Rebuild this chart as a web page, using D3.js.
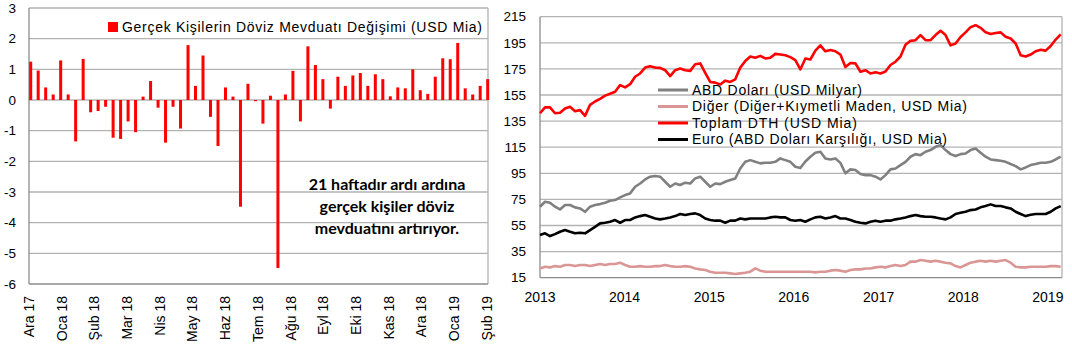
<!DOCTYPE html>
<html><head><meta charset="utf-8">
<script src="https://cdn.jsdelivr.net/npm/d3@7"></script>
<style>
body{margin:0;background:#fff}
svg{display:block}
text{font-family:"Liberation Sans",Arial,sans-serif;fill:#000}
</style>
</head><body>
<svg id="chart" width="1072" height="353"></svg>
<script>
// ---------- Left chart data ----------
const weeklyChange = [1.25,0.96,0.41,0.18,1.29,0.18,-1.35,1.34,-0.40,-0.36,-0.22,-1.23,-1.27,-0.70,-1.05,0.11,0.62,-0.25,-1.39,-0.22,-0.93,1.79,0.46,1.45,-0.55,-1.50,0.41,0.11,-3.48,0.53,-0.04,
  -0.77,0.14,-5.48,0.18,0.95,-0.70,1.75,1.14,0.68,-0.28,0.76,0.46,0.80,0.88,0.46,0.84,0.68,0.12,0.41,0.38,1.00,0.32,0.20,0.76,1.36,1.33,1.86,0.38,0.18,0.46,0.68];
const monthLabels = ["Ara 17","Oca 18","Şub 18","Mar 18","Nis 18","May 18","Haz 18","Tem 18","Ağu 18","Eyl 18","Eki 18","Kas 18","Ara 18","Oca 19","Şub 19"];
const leftYTicks = [3,2,1,0,-1,-2,-3,-4,-5,-6];
const leftLegend = "Gerçek Kişilerin Döviz Mevduatı Değişimi (USD Mia)";
const noteLines = ["21 haftadır ardı ardına","gerçek kişiler döviz","mevduatını artırıyor."];

// ---------- Right chart data (sampled about every 3 weeks) ----------
const usdDeposits = [69.4,73.2,72.4,69.4,67.3,70.7,70.7,68.9,68.1,65.5,69.4,70.7,71.4,72.4,74,74.5,76.5,78.3,79.6,84.7,
  87.2,90.3,92.4,92.9,92.4,88.5,84.7,87.2,86,87.8,87.2,91.1,92.4,88.5,84.7,87.2,86.7,88.5,89.8,91,
  98.7,103.8,105.1,103.8,102.6,103.1,103.1,103.8,106.4,105.1,103.8,100,
  99,104,107.7,110.7,111.5,106.4,105.6,106.4,103,95,98,97.5,94.5,93.6,93.6,92.4,90.3,93.6,98,98.7,
  101.3,103.8,107.7,109.7,108.9,111.5,112.8,115.3,116.6,112.8,109.7,108.2,109.7,110.2,112.8,114,110.7,107.7,105.6,105.1,
  104.6,103.8,102.1,100.5,98,99.5,101.3,102.1,103.1,103.1,103.8,105.6,107.7];
const otherDeposits = [22.1,23.4,22.9,23.9,23.4,24.7,24.7,23.9,24.7,24.7,23.9,24.7,25.5,24.7,25.5,25.5,26.5,24.7,23.4,23.4,
  23.9,23.4,23.4,23.9,23.9,24.7,23.9,23.4,23.4,23.9,23.4,22.1,21.4,20.9,19.6,18.8,18.8,18.8,18.3,17.8,
  18.3,18.8,19.6,22.1,20.4,19.6,19.6,19.6,19.6,19.6,19.6,19.6,
  19.6,19.6,19.6,19.1,19.6,19.6,20.4,20.9,20.4,19.6,20.9,21.4,21.4,22.1,22.1,22.9,23.4,22.9,23.9,24.7,
  23.9,24.7,27.3,27.3,28.5,28,27.3,28,27.3,26.5,26,23.9,22.9,24.7,26.5,27.3,28,27.3,28,27.3,
  28,28.5,26.5,23.4,22.9,22.9,23.4,23.4,23.4,23.4,23.9,23.9,23.4];
const totalDeposits = [141,145.5,145.5,141,141.4,144.7,146,142.6,143.4,139,147.5,150,152,154.5,156,157.5,162.6,160.8,163.3,169,
  171.5,176,177,176,175.8,174,169.5,174,175.3,174,173.5,178.6,179.2,172,165,164.5,163,166,165,167,
  176,181,184.5,183.5,185,183,183.5,186.5,186,185.5,184,181.7,
  174.6,183,182.2,189,193,188.5,189.4,188.5,186,176.5,179.5,179.2,172.8,174,171.5,172.5,171.5,173,178,180.5,
  184.5,193.5,196.5,197,200.9,197,197,200.9,204.2,200.9,193,194.5,199.5,203,207,208.5,206.5,203,201.8,202.5,
  203,199.6,198.3,194.5,185.5,184.5,186,188.5,189.7,189,192.5,197.5,201.5];
const euroDeposits = [47.7,49,46.9,48.4,50.2,51.5,50.2,49,49.5,49,51.5,54,56.6,57.1,57.9,59.2,57.1,59.2,59.2,61.2,
  62.2,63,61.7,60.4,59.7,60.4,61.2,62.2,63.8,63,63.8,64.3,63,60.4,59.2,58.7,58.7,57.1,58.7,58.7,
  60.4,59.7,60.4,60.4,60.4,60.4,61.2,61.7,61.2,61.2,59.2,58.7,
  59.2,57.9,59.7,61.2,61.7,60.4,61.2,62.2,60.4,60.4,59.2,57.9,57.1,56.6,57.9,58.7,57.9,58.7,58.7,59.7,
  60.4,61.2,62.2,63,62.2,61.7,61.7,61.2,60.4,59.7,61.2,63.8,64.8,65.5,66.8,67.3,68.9,69.9,71.2,69.9,
  69.9,68.9,68.1,65.5,63.8,62.2,63.2,63.8,63.8,63.8,65.5,68.1,69.9];
const sampleStart = new Date(2013,0,1);
const sampleStepDays = 21.6;
const sampleDates = totalDeposits.map((_, i) => new Date(sampleStart.getTime() + i*sampleStepDays*864e5));
const yearLabels = ["2013","2014","2015","2016","2017","2018","2019"];
const rightYTicks = [215,195,175,155,135,115,95,75,55,35,15];
const seriesNames = ["ABD Doları (USD Milyar)","Diğer (Diğer+Kıymetli Maden, USD Mia)","Toplam DTH (USD Mia)","Euro (ABD Doları Karşılığı, USD Mia)"];
const seriesColors = ["#808080","#d99694","#ff0000","#000000"];
const seriesData = [usdDeposits, otherDeposits, totalDeposits, euroDeposits];

const svg = d3.select("#chart");
svg.append("rect").attr("width",1072).attr("height",353).attr("fill","#fff");
const gridColor = "#b3b3b3", axisColor = "#8c8c8c";

// ================= LEFT CHART =================
const L = {x0:29, x1:488, y0:8, y1:284};
const ly = d3.scaleLinear().domain([-6,3]).range([L.y1, L.y0]);
const lx = d3.scalePoint().domain(d3.range(weeklyChange.length)).range([30.7, 487.7]);
const lLab = d3.scalePoint().domain(monthLabels).range([29, 487]);
const lg = svg.append("g");
lg.selectAll("line.grid").data(leftYTicks.filter(v => v>-6 && v<3)).join("line")
  .attr("x1",L.x0).attr("x2",L.x1).attr("y1",d=>ly(d)).attr("y2",d=>ly(d))
  .attr("stroke",gridColor).attr("stroke-width",1.3);
lg.append("line").attr("x1",L.x0).attr("x2",L.x1).attr("y1",L.y0).attr("y2",L.y0).attr("stroke",gridColor).attr("stroke-width",1.3);
lg.append("line").attr("x1",L.x1).attr("x2",L.x1).attr("y1",L.y0).attr("y2",L.y1).attr("stroke",gridColor).attr("stroke-width",1.3);
lg.append("line").attr("x1",L.x0).attr("x2",L.x1).attr("y1",L.y1).attr("y2",L.y1).attr("stroke",axisColor).attr("stroke-width",1.3);
lg.append("line").attr("x1",L.x0).attr("x2",L.x0).attr("y1",L.y0).attr("y2",L.y1).attr("stroke",axisColor).attr("stroke-width",1.3);
lg.selectAll("rect.bar").data(weeklyChange).join("rect")
  .attr("x",(d,i)=>lx(i)-1.5).attr("width",3)
  .attr("y",d=>ly(Math.max(0,d))).attr("height",d=>Math.abs(ly(d)-ly(0)))
  .attr("fill","#ff0000");
lg.selectAll("text.yl").data(leftYTicks).join("text")
  .attr("x",16).attr("y",d=>ly(d)).attr("dy","0.35em").attr("text-anchor","end")
  .attr("font-size",13.5).text(d=>d);
lg.selectAll("text.xl").data(monthLabels).join("text")
  .attr("transform",d=>`translate(${lLab(d)},296) rotate(-90)`)
  .attr("dy","0.35em").attr("text-anchor","end").attr("font-size",14).text(d=>d);
lg.append("rect").attr("x",108).attr("y",22).attr("width",10).attr("height",10).attr("fill","#ff0000");
lg.append("text").attr("x",122).attr("y",27).attr("dy","0.35em").attr("font-size",14)
  .attr("textLength",360).attr("lengthAdjust","spacing").text(leftLegend);
lg.selectAll("text.note").data(noteLines).join("text")
  .attr("x",387).attr("y",(d,i)=>[184,206.5,228.5][i]).attr("dy","0.35em").attr("text-anchor","middle")
  .style("font-family","Lato, 'Open Sans', sans-serif").attr("font-weight","bold").attr("font-size",16)
  .attr("fill","#1a1a1a").text(d=>d);

// ================= RIGHT CHART =================
const R = {x0:540, x1:1062, y0:16.7, y1:277.7};
const rx = d3.scaleTime().domain([new Date(2013,0,1), new Date(2019,2,3)]).range([R.x0, R.x1]);
const ry = d3.scaleLinear().domain([15,215]).range([R.y1, R.y0]);
const rg = svg.append("g");
rg.selectAll("line.grid").data(rightYTicks.filter(v=>v>15)).join("line")
  .attr("x1",R.x0).attr("x2",R.x1).attr("y1",d=>ry(d)).attr("y2",d=>ry(d))
  .attr("stroke",gridColor).attr("stroke-width",1.3);
rg.append("line").attr("x1",R.x1).attr("x2",R.x1).attr("y1",R.y0).attr("y2",R.y1).attr("stroke",gridColor).attr("stroke-width",1.3);
rg.append("line").attr("x1",R.x0).attr("x2",R.x1).attr("y1",R.y1).attr("y2",R.y1).attr("stroke",axisColor).attr("stroke-width",1.3);
rg.append("line").attr("x1",R.x0).attr("x2",R.x0).attr("y1",R.y0).attr("y2",R.y1).attr("stroke",axisColor).attr("stroke-width",1.3);
rg.selectAll("text.yl").data(rightYTicks).join("text")
  .attr("x",526).attr("y",d=>ry(d)).attr("dy","0.35em").attr("text-anchor","end")
  .attr("font-size",13.5).text(d=>d);
rg.selectAll("text.xl").data(yearLabels).join("text")
  .attr("x",d=>rx(new Date(+d,0,1))).attr("y",297).attr("dy","0.35em").attr("text-anchor","middle")
  .attr("font-size",14).text(d=>d);
const line = d3.line().x((d,i)=>rx(sampleDates[i])).y(d=>ry(d));
rg.selectAll("path.s").data(seriesData).join("path")
  .attr("d",d=>line(d)).attr("fill","none")
  .attr("stroke",(d,i)=>seriesColors[i]).attr("stroke-width",2.6).attr("stroke-linejoin","round");
const legY = [90,106.5,123,139.5];
const legLen = [170,275,165,255];
const leg = rg.selectAll("g.leg").data(seriesNames).join("g").attr("transform",(d,i)=>`translate(658,${legY[i]})`);
leg.append("line").attr("x1",0).attr("x2",30).attr("stroke",(d,i)=>seriesColors[i]).attr("stroke-width",3);
leg.append("text").attr("x",34).attr("dy","0.35em").attr("font-size",14)
  .attr("textLength",(d,i)=>legLen[i]).attr("lengthAdjust","spacing").text(d=>d);
</script>
</body></html>
